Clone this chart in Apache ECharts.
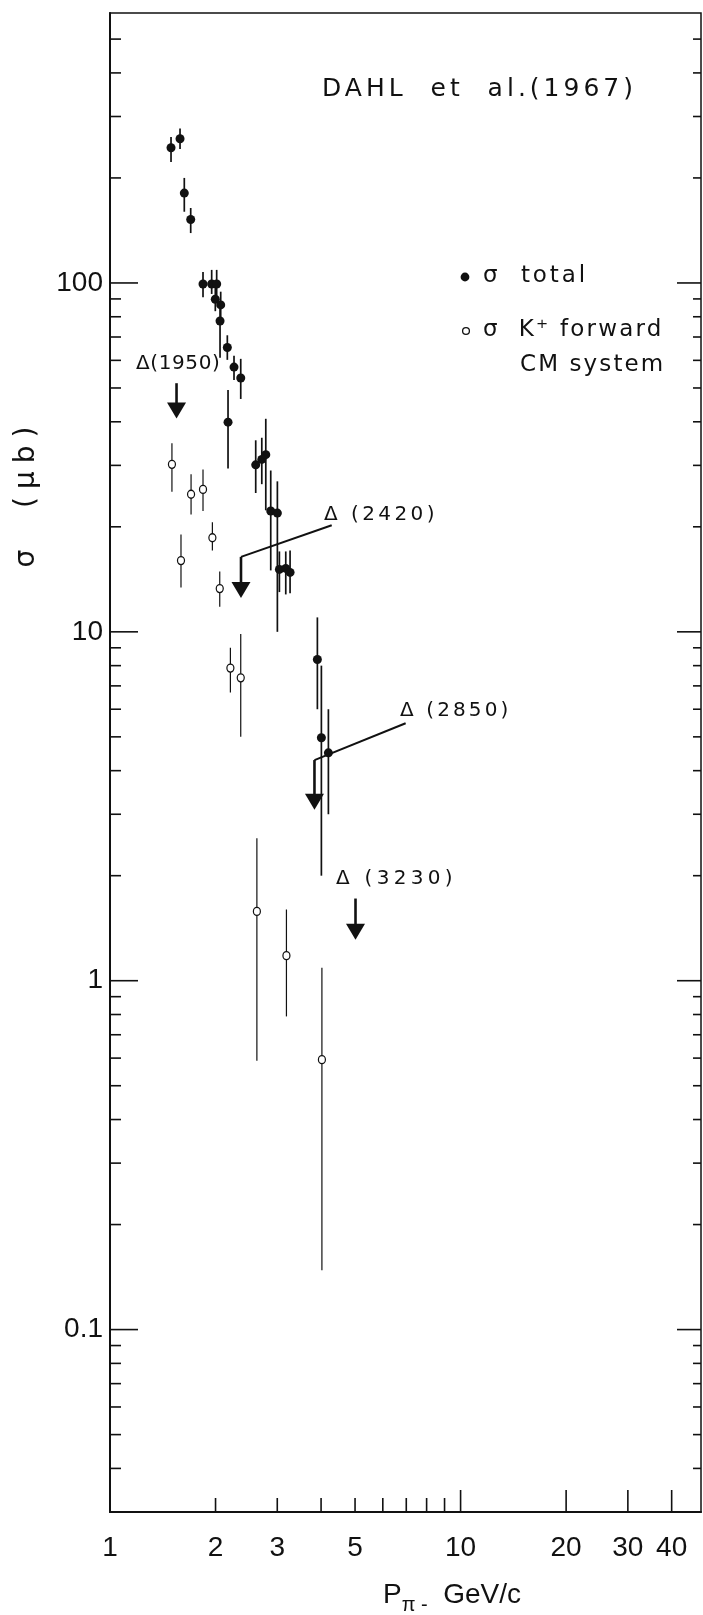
<!DOCTYPE html>
<html>
<head>
<meta charset="utf-8">
<script src="https://cdn.jsdelivr.net/npm/echarts@6/dist/echarts.min.js"></script>
<style>
  html, body { margin: 0; padding: 0; background: #ffffff; }
  #chart { width: 703px; height: 1615px; }
</style>
</head>
<body>
<div id="chart"></div>
<script>
// ---- σ total : beam momentum (GeV/c), cross section (μb), error bar ends ----
const totalP     = [1.493, 1.584, 1.629, 1.699, 1.842, 1.950, 2.015, 1.997, 2.069, 2.060, 2.161, 2.258, 2.360, 2.171, 2.604, 2.710, 2.782, 2.874, 3.002, 3.042, 3.172, 3.263, 3.904, 4.008, 4.197];
const totalSigma = [244, 259, 181, 152, 99.3, 99.3, 99.3, 89.8, 86.5, 77.8, 65.3, 57.4, 53.4, 39.9, 30.1, 31.2, 32.2, 22.2, 21.9, 15.1, 15.2, 14.8, 8.33, 4.97, 4.50];
const totalLo    = [222, 242, 160, 139, 91, 93, 92, 83, 79, 61, 60.2, 52.7, 46.5, 29.4, 25.0, 26.5, 22.3, 15.0, 10.0, 13.0, 12.8, 12.9, 6.0, 2.0, 3.0];
const totalHi    = [262, 277, 200, 164, 107.5, 109, 109, 97, 94.4, 85.5, 70.8, 61.9, 60.6, 49.3, 35.4, 36.0, 40.8, 29.0, 27.0, 17.0, 17.0, 17.1, 11.0, 8.0, 6.0];

// ---- σ K+ forward (CM system) ----
const fwdP     = [1.502, 1.594, 1.703, 1.842, 1.959, 2.056, 2.205, 2.360, 2.624, 3.186, 4.022];
const fwdSigma = [30.2, 16.0, 24.8, 25.6, 18.6, 13.3, 7.87, 7.38, 1.58, 1.18, 0.594];
const fwdLo    = [25.2, 13.4, 21.7, 22.2, 17.1, 11.8, 6.7, 5.0, 0.59, 0.79, 0.148];
const fwdHi    = [34.7, 19.0, 28.3, 29.2, 20.6, 14.9, 9.0, 9.86, 2.56, 1.60, 1.09];

// ---- Δ resonance thresholds: arrow (momentum, stem top, tip) and label anchor ----
const deltaNames       = ['Δ(1950)', 'Δ (2420)', 'Δ (2850)', 'Δ (3230)'];
const deltaP           = [1.548, 2.364, 3.83, 5.015];
const deltaTop         = [51.6, 16.4, 4.29, 1.72];
const deltaTip         = [40.9, 12.5, 3.09, 1.31];
const deltaLabelP      = [1.186, 4.08, 6.72, 4.41];
const deltaLabelSigma  = [58.6, 21.7, 5.94, 1.955];
const deltaLeaderP     = [null, 4.29, 6.97, null];
const deltaLeaderSigma = [null, 20.2, 5.47, null];

// ---- axes ----
const xMinorTicks = [2, 3, 4, 5, 6, 7, 8, 9];
const xMajorTicks = [10, 20, 30, 40];
const xLabels     = [1, 2, 3, 5, 10, 20, 30, 40];
const yMajorTicks = [0.1, 1, 10, 100];
const yMinorTicks = [0.04, 0.05, 0.06, 0.07, 0.08, 0.09,
                     0.2, 0.3, 0.4, 0.5, 0.6, 0.7, 0.8, 0.9,
                     2, 3, 4, 5, 6, 7, 8, 9,
                     20, 30, 40, 50, 60, 70, 80, 90,
                     200, 300, 400, 500];
const yLabels     = [0.1, 1, 10, 100];

const X_MIN = 1, X_MAX = 48.5, Y_MIN = 0.03, Y_MAX = 594;
const INK = '#111111';
const SANS = 'DejaVu Sans';
const TICK_FONT = 'Liberation Sans';

// Hand-lettered strings are drawn with extra tracking; everything else with none.
const LETTER_SPACING = {
  'DAHL  et  al.(1967)': 4,
  'σ  total': 2.9,
  'σ  K⁺ forward': 2.2,
  'CM system': 2.1,
  'Δ(1950)': 0.6,
  'Δ (2420)': 3.4,
  'Δ (2850)': 3.1,
  'Δ (3230)': 4.3,
  'σ  (μb)': 8
};
(function () {
  const proto = CanvasRenderingContext2D.prototype;
  const fill = proto.fillText;
  proto.fillText = function (text, x, y, maxWidth) {
    if ('letterSpacing' in this) {
      this.letterSpacing = (LETTER_SPACING[text] || 0) + 'px';
    }
    if (maxWidth === undefined) fill.call(this, text, x, y);
    else fill.call(this, text, x, y, maxWidth);
    if ('letterSpacing' in this) this.letterSpacing = '0px';
  };
})();

const chart = echarts.init(document.getElementById('chart'), null, { renderer: 'canvas' });

function errorBarItem(width) {
  return function (params, api) {
    const a = api.coord([api.value(0), api.value(1)]);
    const b = api.coord([api.value(0), api.value(2)]);
    return { type: 'line', shape: { x1: a[0], y1: a[1], x2: b[0], y2: b[1] },
             style: { stroke: INK, lineWidth: width } };
  };
}

function xTickItem(len) {
  return function (params, api) {
    const p = api.coord([api.value(0), Y_MIN]);
    return { type: 'line', shape: { x1: p[0], y1: p[1], x2: p[0], y2: p[1] - len },
             style: { stroke: INK, lineWidth: 1.6 } };
  };
}

function yTickItem(leftLen, rightLen) {
  return function (params, api) {
    const l = api.coord([X_MIN, api.value(1)]);
    const r = api.coord([X_MAX, api.value(1)]);
    return { type: 'group', children: [
      { type: 'line', shape: { x1: l[0], y1: l[1], x2: l[0] + leftLen, y2: l[1] }, style: { stroke: INK, lineWidth: 1.6 } },
      { type: 'line', shape: { x1: r[0], y1: r[1], x2: r[0] - rightLen, y2: r[1] }, style: { stroke: INK, lineWidth: 1.6 } }
    ] };
  };
}

function deltaItem(params, api) {
  const i = params.dataIndex;
  const top = api.coord([deltaP[i], deltaTop[i]]);
  const tip = api.coord([deltaP[i], deltaTip[i]]);
  const lab = api.coord([deltaLabelP[i], deltaLabelSigma[i]]);
  const head = 16, half = 9.5;
  const children = [
    { type: 'line', shape: { x1: top[0], y1: top[1], x2: tip[0], y2: tip[1] - head + 1 },
      style: { stroke: INK, lineWidth: 2.6 } },
    { type: 'polygon', shape: { points: [[tip[0] - half, tip[1] - head], [tip[0] + half, tip[1] - head], [tip[0], tip[1]]] },
      style: { fill: INK } },
    { type: 'text', x: lab[0], y: lab[1],
      style: { text: deltaNames[i], align: 'left', verticalAlign: 'middle',
               font: '20px "' + SANS + '"', fill: INK } }
  ];
  if (deltaLeaderP[i] !== null) {
    const end = api.coord([deltaLeaderP[i], deltaLeaderSigma[i]]);
    children.push({ type: 'line', shape: { x1: top[0], y1: top[1], x2: end[0], y2: end[1] },
                    style: { stroke: INK, lineWidth: 2 } });
  }
  return { type: 'group', children: children };
}

const option = {
  animation: false,
  backgroundColor: '#ffffff',
  grid: { left: 110, right: 2, top: 13, bottom: 103, show: true, borderColor: INK, borderWidth: 1.5, backgroundColor: 'transparent' },
  xAxis: {
    type: 'log', logBase: 10, min: X_MIN, max: X_MAX,
    axisLine: { show: true, lineStyle: { color: INK, width: 2 } },
    axisTick: { show: false }, axisLabel: { show: false }, splitLine: { show: false }
  },
  yAxis: {
    type: 'log', logBase: 10, min: Y_MIN, max: Y_MAX,
    axisLine: { show: true, lineStyle: { color: INK, width: 2 } },
    axisTick: { show: false }, axisLabel: { show: false }, splitLine: { show: false }
  },
  series: [
    { type: 'custom', name: 'x minor ticks', clip: false, z: 1, silent: true,
      data: xMinorTicks.map(v => [v, Y_MIN]), renderItem: xTickItem(14) },
    { type: 'custom', name: 'x major ticks', clip: false, z: 1, silent: true,
      data: xMajorTicks.map(v => [v, Y_MIN]), renderItem: xTickItem(22) },
    { type: 'custom', name: 'y minor ticks', clip: false, z: 1, silent: true,
      data: yMinorTicks.map(v => [X_MIN, v]), renderItem: yTickItem(11, 8) },
    { type: 'custom', name: 'y major ticks', clip: false, z: 1, silent: true,
      data: yMajorTicks.map(v => [X_MIN, v]), renderItem: yTickItem(28, 24) },
    { type: 'custom', name: 'x labels', clip: false, z: 1, silent: true,
      data: xLabels.map(v => [v, Y_MIN]),
      renderItem: function (params, api) {
        const p = api.coord([api.value(0), Y_MIN]);
        return { type: 'text', x: p[0], y: p[1] + 36,
                 style: { text: String(api.value(0)), align: 'center', verticalAlign: 'middle',
                          font: '28px "' + TICK_FONT + '"', fill: INK } };
      } },
    { type: 'custom', name: 'y labels', clip: false, z: 1, silent: true,
      data: yLabels.map(v => [X_MIN, v]),
      renderItem: function (params, api) {
        const p = api.coord([X_MIN, api.value(1)]);
        return { type: 'text', x: p[0] - 7, y: p[1],
                 style: { text: String(api.value(1)), align: 'right', verticalAlign: 'middle',
                          font: '28px "' + TICK_FONT + '"', fill: INK } };
      } },
    { type: 'custom', name: 'σ total errors', clip: false, z: 2, silent: true,
      encode: { x: 0, y: [1, 2] },
      data: totalP.map((p, i) => [p, totalLo[i], totalHi[i]]), renderItem: errorBarItem(1.7) },
    { type: 'custom', name: 'σ K+ forward errors', clip: false, z: 2, silent: true,
      encode: { x: 0, y: [1, 2] },
      data: fwdP.map((p, i) => [p, fwdLo[i], fwdHi[i]]), renderItem: errorBarItem(1.2) },
    { type: 'scatter', name: 'σ total', z: 3, silent: true,
      symbol: 'circle', symbolSize: 9,
      itemStyle: { color: INK, opacity: 1 },
      data: totalP.map((p, i) => [p, totalSigma[i]]) },
    { type: 'scatter', name: 'σ K+ forward', z: 3, silent: true,
      symbol: 'circle', symbolSize: [7, 8],
      itemStyle: { color: '#ffffff', borderColor: INK, borderWidth: 1.3, opacity: 1 },
      data: fwdP.map((p, i) => [p, fwdSigma[i]]) },
    { type: 'custom', name: 'Δ thresholds', clip: false, z: 4, silent: true,
      data: deltaP.map((p, i) => [p, deltaTip[i]]), renderItem: deltaItem }
  ],
  graphic: [
    { type: 'text', x: 322, y: 89, silent: true,
      style: { text: 'DAHL  et  al.(1967)', align: 'left', verticalAlign: 'middle',
               font: '25px "' + SANS + '"', fill: INK } },
    { type: 'circle', shape: { cx: 465, cy: 277, r: 4.4 }, style: { fill: INK }, silent: true },
    { type: 'text', x: 483, y: 276, silent: true,
      style: { text: 'σ  total', align: 'left', verticalAlign: 'middle', font: '23px "' + SANS + '"', fill: INK } },
    { type: 'circle', shape: { cx: 466, cy: 331, r: 3.4 }, style: { fill: '#ffffff', stroke: INK, lineWidth: 1.3 }, silent: true },
    { type: 'text', x: 483, y: 330, silent: true,
      style: { text: 'σ  K⁺ forward', align: 'left', verticalAlign: 'middle', font: '23px "' + SANS + '"', fill: INK } },
    { type: 'text', x: 520, y: 365, silent: true,
      style: { text: 'CM system', align: 'left', verticalAlign: 'middle', font: '23px "' + SANS + '"', fill: INK } },
    { type: 'text', x: 27, y: 493, rotation: Math.PI / 2, silent: true,
      style: { text: 'σ  (μb)', align: 'center', verticalAlign: 'middle', font: '28px "' + SANS + '"', fill: INK } },
    { type: 'text', x: 383, y: 1581, silent: true,
      style: {
        text: '{m|P}{s|π -}{m|  GeV/c}', align: 'left', verticalAlign: 'top',
        rich: {
          m: { font: '28px "' + TICK_FONT + '"', fill: INK, lineHeight: 28, verticalAlign: 'top' },
          s: { font: '20px "' + TICK_FONT + '"', fill: INK, lineHeight: 48, verticalAlign: 'middle' }
        }
      } }
  ]
};

chart.setOption(option);
</script>
</body>
</html>
